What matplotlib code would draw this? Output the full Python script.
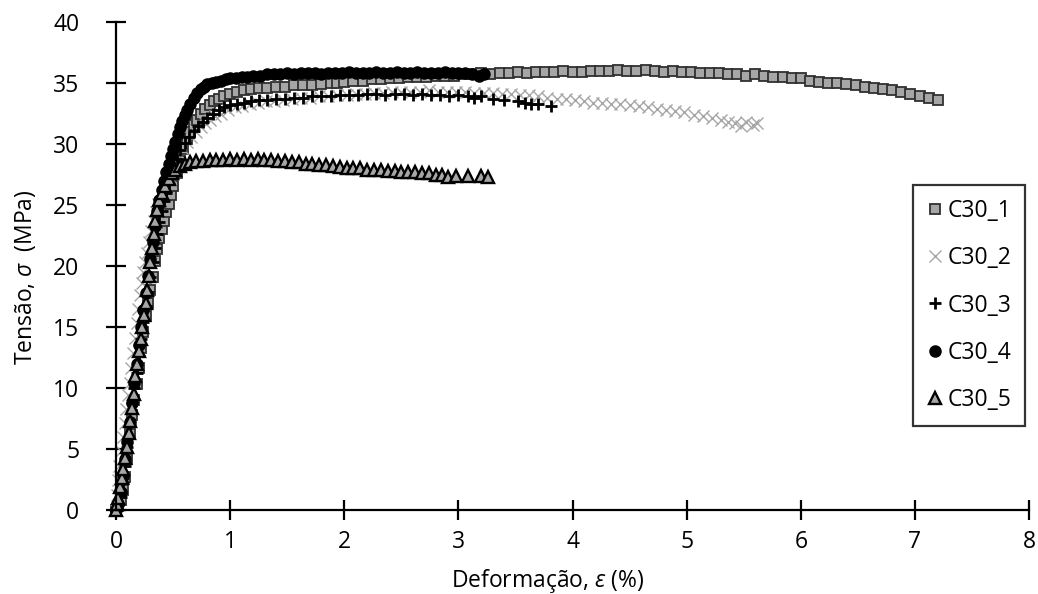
import matplotlib
matplotlib.use("Agg")
import matplotlib.pyplot as plt
import numpy as np

plt.rcParams['font.family'] = ['Open Sans', 'DejaVu Sans']
plt.rcParams['mathtext.fontset'] = 'custom'
plt.rcParams['mathtext.it'] = 'Open Sans:italic'
plt.rcParams['mathtext.rm'] = 'Open Sans'

# (strain %, stress MPa)
c30_1 = [(0, 0), (0.02, 0.3), (0.04, 0.8), (0.06, 1.6), (0.08, 2.7), (0.10, 4.2), (0.12, 6.2), (0.14, 7.8),
         (0.16, 9.0), (0.18, 10.3), (0.20, 11.6), (0.22, 13.3), (0.24, 14.6), (0.26, 15.9), (0.28, 17.0),
         (0.30, 18.0), (0.32, 19.1), (0.34, 20.4), (0.36, 21.4), (0.38, 22.3), (0.40, 23.0), (0.42, 23.7),
         (0.44, 24.4), (0.46, 25.1), (0.48, 25.8), (0.50, 26.6), (0.53, 27.6), (0.56, 28.6), (0.59, 29.6),
         (0.62, 30.4), (0.65, 31.0), (0.68, 31.6), (0.71, 32.0), (0.74, 32.5), (0.78, 32.9), (0.82, 33.2),
         (0.86, 33.5), (0.90, 33.7), (0.95, 33.9), (1.00, 34.1), (1.06, 34.3), (1.12, 34.4), (1.18, 34.5),
         (1.25, 34.6), (1.32, 34.6), (1.40, 34.7), (1.48, 34.7), (1.56, 34.8), (1.64, 34.8), (1.72, 34.8),
         (1.80, 34.9), (1.88, 35.0), (1.94, 35.0), (2.00, 35.1), (2.08, 35.2), (2.16, 35.2), (2.24, 35.3),
         (2.32, 35.3), (2.40, 35.4), (2.48, 35.4), (2.56, 35.5), (2.64, 35.5), (2.72, 35.5), (2.80, 35.6),
         (2.88, 35.6), (2.96, 35.6), (3.04, 35.7), (3.12, 35.7), (3.20, 35.8), (3.28, 35.7), (3.36, 35.8),
         (3.44, 35.8), (3.52, 35.9), (3.60, 35.8), (3.68, 35.9), (3.76, 35.9), (3.84, 35.9), (3.92, 36.0),
         (4.00, 35.9), (4.08, 35.9), (4.16, 36.0), (4.24, 36.0), (4.32, 36.0), (4.40, 36.1), (4.48, 36.0),
         (4.56, 36.0), (4.64, 36.1), (4.72, 36.0), (4.80, 35.9), (4.88, 36.0), (4.96, 35.9), (5.04, 35.9),
         (5.12, 35.8), (5.20, 35.8), (5.28, 35.8), (5.36, 35.7), (5.44, 35.7), (5.52, 35.6), (5.60, 35.7),
         (5.68, 35.6), (5.76, 35.5), (5.84, 35.5), (5.92, 35.4), (6.00, 35.4), (6.08, 35.2), (6.16, 35.1),
         (6.24, 35.0), (6.32, 35.0), (6.40, 34.9), (6.48, 34.8), (6.56, 34.7), (6.64, 34.6), (6.72, 34.5),
         (6.80, 34.4), (6.88, 34.3), (6.96, 34.1), (7.04, 33.9), (7.12, 33.8), (7.20, 33.6)]

c30_2 = [(0, 0), (0.01, 1.2), (0.02, 2.5), (0.03, 3.6), (0.045, 4.8), (0.06, 6.0), (0.075, 7.1), (0.09, 8.3),
         (0.105, 9.4), (0.12, 10.4), (0.135, 11.6), (0.15, 12.9), (0.165, 14.1), (0.18, 15.3), (0.195, 16.5),
         (0.21, 17.6), (0.225, 18.6), (0.24, 19.5), (0.255, 20.3), (0.27, 21.1), (0.29, 22.0), (0.31, 22.9),
         (0.33, 23.7), (0.35, 24.4), (0.37, 25.1), (0.40, 25.9), (0.43, 26.7), (0.46, 27.4), (0.49, 28.0),
         (0.52, 28.7), (0.55, 29.2), (0.58, 29.7), (0.62, 30.2), (0.66, 30.6), (0.70, 31.0), (0.74, 31.4),
         (0.78, 31.7), (0.82, 32.0), (0.87, 32.3), (0.92, 32.5), (0.98, 32.8), (1.04, 33.0), (1.10, 33.1),
         (1.17, 33.3), (1.24, 33.4), (1.31, 33.5), (1.38, 33.5), (1.46, 33.6), (1.54, 33.7), (1.62, 33.8),
         (1.70, 33.8), (1.78, 33.9), (1.86, 33.9), (1.94, 34.0), (2.02, 34.0), (2.10, 34.1), (2.18, 34.1),
         (2.26, 34.2), (2.34, 34.2), (2.42, 34.3), (2.50, 34.3), (2.58, 34.3), (2.66, 34.3), (2.74, 34.4),
         (2.82, 34.3), (2.90, 34.3), (2.98, 34.3), (3.06, 34.3), (3.14, 34.2), (3.22, 34.2), (3.30, 34.2),
         (3.38, 34.1), (3.46, 34.1), (3.54, 34.0), (3.62, 34.0), (3.70, 33.9), (3.78, 33.8), (3.86, 33.7),
         (3.94, 33.7), (4.02, 33.6), (4.10, 33.5), (4.18, 33.4), (4.26, 33.4), (4.34, 33.3), (4.42, 33.3),
         (4.50, 33.2), (4.58, 33.1), (4.66, 33.0), (4.74, 32.9), (4.82, 32.8), (4.90, 32.7), (4.98, 32.6),
         (5.06, 32.4), (5.14, 32.3), (5.22, 32.1), (5.30, 32.0), (5.36, 31.8), (5.42, 31.7), (5.48, 31.5),
         (5.52, 31.8), (5.58, 31.6), (5.62, 31.7)]

c30_3 = [(0, 0), (0.02, 0.4), (0.04, 1.1), (0.06, 2.2), (0.08, 3.6), (0.10, 5.2), (0.12, 7.0), (0.14, 8.8),
         (0.16, 10.0), (0.18, 11.2), (0.20, 12.6), (0.22, 14.0), (0.24, 15.4), (0.26, 16.7), (0.28, 17.9),
         (0.30, 19.1), (0.32, 20.3), (0.34, 21.5), (0.36, 22.6), (0.38, 23.6), (0.40, 24.5), (0.42, 25.3),
         (0.44, 26.0), (0.46, 26.7), (0.48, 27.4), (0.50, 28.0), (0.53, 28.8), (0.56, 29.5), (0.60, 30.1),
         (0.64, 30.6), (0.68, 31.1), (0.72, 31.5), (0.76, 31.8), (0.80, 32.1), (0.85, 32.5), (0.90, 32.8),
         (0.95, 33.0), (1.00, 33.2), (1.06, 33.3), (1.12, 33.4), (1.18, 33.5), (1.25, 33.6), (1.32, 33.6),
         (1.40, 33.7), (1.48, 33.7), (1.56, 33.8), (1.64, 33.8), (1.72, 33.9), (1.80, 33.9), (1.88, 33.9),
         (1.96, 34.0), (2.04, 34.0), (2.12, 34.0), (2.20, 34.1), (2.28, 34.1), (2.36, 34.0), (2.44, 34.1),
         (2.52, 34.1), (2.60, 34.0), (2.68, 34.1), (2.76, 34.0), (2.84, 34.0), (2.92, 33.9), (3.00, 34.0),
         (3.08, 33.9), (3.14, 33.8), (3.20, 33.9), (3.30, 33.7), (3.40, 33.6), (3.52, 33.5), (3.58, 33.4),
         (3.64, 33.3), (3.70, 33.3), (3.81, 33.1)]

c30_4 = [(0, 0), (0.02, 0.5), (0.04, 1.5), (0.06, 2.8), (0.08, 4.2), (0.10, 5.6), (0.12, 7.2), (0.14, 8.8),
         (0.16, 10.4), (0.18, 12.0), (0.20, 13.5), (0.22, 15.0), (0.24, 16.4), (0.26, 17.8), (0.28, 19.2),
         (0.30, 20.6), (0.32, 22.0), (0.34, 23.3), (0.36, 24.5), (0.38, 25.4), (0.40, 26.2), (0.42, 27.0),
         (0.44, 27.7), (0.46, 28.4), (0.48, 29.0), (0.50, 29.6), (0.52, 30.2), (0.54, 30.8), (0.56, 31.4),
         (0.58, 31.9), (0.60, 32.4), (0.62, 32.8), (0.65, 33.3), (0.68, 33.8), (0.71, 34.2), (0.74, 34.5),
         (0.77, 34.7), (0.80, 34.9), (0.84, 35.0), (0.88, 35.1), (0.92, 35.2), (0.96, 35.3), (1.00, 35.4),
         (1.05, 35.4), (1.10, 35.5), (1.15, 35.5), (1.20, 35.6), (1.26, 35.6), (1.32, 35.7), (1.38, 35.7),
         (1.44, 35.7), (1.50, 35.8), (1.56, 35.7), (1.62, 35.8), (1.68, 35.8), (1.74, 35.8), (1.80, 35.7),
         (1.86, 35.8), (1.92, 35.8), (1.98, 35.8), (2.04, 35.9), (2.10, 35.8), (2.16, 35.8), (2.22, 35.8),
         (2.28, 35.9), (2.34, 35.8), (2.40, 35.8), (2.46, 35.9), (2.52, 35.8), (2.58, 35.8), (2.64, 35.9),
         (2.70, 35.8), (2.76, 35.8), (2.82, 35.8), (2.88, 35.9), (2.94, 35.8), (3.00, 35.8), (3.06, 35.8),
         (3.12, 35.7), (3.18, 35.6), (3.22, 35.7)]

c30_5 = [(0, 0), (0.01, 0.5), (0.02, 1.0), (0.035, 1.9), (0.05, 2.6), (0.065, 3.4), (0.08, 4.3), (0.095, 5.2),
         (0.11, 6.3), (0.125, 7.3), (0.14, 8.4), (0.155, 9.5), (0.17, 11.0), (0.185, 12.0), (0.20, 13.0),
         (0.215, 14.0), (0.23, 15.0), (0.245, 16.0), (0.26, 17.0), (0.275, 18.0), (0.29, 19.2), (0.30, 20.3),
         (0.315, 21.5), (0.33, 22.6), (0.345, 23.7), (0.36, 24.6), (0.38, 25.4), (0.40, 26.0), (0.43, 26.6),
         (0.46, 27.1), (0.49, 27.6), (0.52, 27.9), (0.56, 28.2), (0.60, 28.4), (0.65, 28.5), (0.70, 28.6),
         (0.76, 28.6), (0.82, 28.7), (0.88, 28.7), (0.94, 28.7), (1.00, 28.8), (1.06, 28.7), (1.12, 28.8),
         (1.18, 28.7), (1.24, 28.8), (1.30, 28.7), (1.36, 28.7), (1.42, 28.6), (1.48, 28.6), (1.54, 28.5),
         (1.60, 28.5), (1.66, 28.4), (1.72, 28.4), (1.78, 28.3), (1.84, 28.3), (1.90, 28.2), (1.96, 28.1),
         (2.02, 28.0), (2.08, 28.0), (2.14, 28.0), (2.20, 27.9), (2.26, 27.9), (2.32, 27.9), (2.38, 27.8),
         (2.44, 27.8), (2.50, 27.7), (2.56, 27.7), (2.62, 27.7), (2.68, 27.6), (2.74, 27.6), (2.80, 27.5),
         (2.86, 27.5), (2.91, 27.3), (2.98, 27.4), (3.08, 27.4), (3.20, 27.4), (3.26, 27.3)]

labels = ["C30_1", "C30_2", "C30_3", "C30_4", "C30_5"]
xticks = [0, 1, 2, 3, 4, 5, 6, 7, 8]
yticks = [0, 5, 10, 15, 20, 25, 30, 35, 40]

styles = [
    dict(marker='s', ms=7.3, mfc='#a6a6a6', mec='#303030', mew=1.3),
    dict(marker='x', ms=9, mfc='none', mec='#a6a6a6', mew=1.0),
    dict(marker='+', ms=9, mfc='black', mec='black', mew=2.0),
    dict(marker='o', ms=8, mfc='black', mec='black', mew=1.0),
    dict(marker='^', ms=8.3, mfc='#a6a6a6', mec='black', mew=1.7),
]

fs = 16.5

fig = plt.figure(figsize=(10.38, 5.94), dpi=100)
ax = fig.add_axes([0.1118, 0.1414, 0.8796, 0.8215])

for data, lab, st in zip([c30_1, c30_2, c30_3, c30_4, c30_5], labels, styles):
    arr = np.array(data)
    ax.plot(arr[:, 0], arr[:, 1], linestyle='none', label=lab, clip_on=False, **st)

ax.set_xlim(0, 8)
ax.set_ylim(0, 40)
ax.set_xticks(xticks)
ax.set_yticks(yticks)
for side in ['top', 'right']:
    ax.spines[side].set_visible(False)
for side in ['left', 'bottom']:
    ax.spines[side].set_linewidth(1.6)
ax.tick_params(axis='both', direction='inout', length=15, width=1.6, labelsize=fs, colors='black')
ax.tick_params(axis='y', pad=19)
ax.tick_params(axis='x', pad=7)

ax.set_xlabel(r"Deformação, $\varepsilon$ (%)", fontsize=fs)
ax.xaxis.set_label_coords(0.473, -0.117)
ax.set_ylabel(r"Tensão, $\sigma$  (MPa)", fontsize=fs)
ax.yaxis.set_label_coords(-0.086, 0.477)

leg = ax.legend(loc='upper left', bbox_to_anchor=(0.873, 0.666), fontsize=fs, frameon=True,
                fancybox=False, edgecolor='black', handlelength=0.7, handletextpad=0.2,
                labelspacing=1.02, borderpad=0.6, borderaxespad=0)
leg.get_frame().set_linewidth(1.6)

fig.savefig("out.png", dpi=100)
